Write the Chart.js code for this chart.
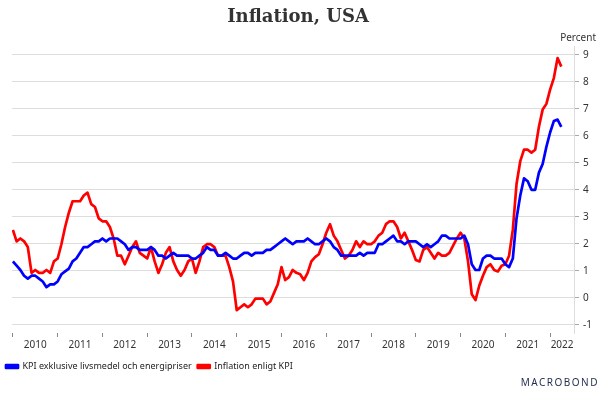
<!DOCTYPE html>
<html>
<head>
<meta charset="utf-8">
<script src="https://cdn.jsdelivr.net/npm/chart.js@4"></script>
<style>
  body { margin: 0; background: #fff; }
  #wrap { position: relative; width: 600px; height: 396px; }
  #unit { position: absolute; right: 4px; top: 30px; font: 10px "Noto Sans", sans-serif; color: #333; white-space: nowrap; }
  #logo { position: absolute; right: 1px; top: 375px; font: 10px "Noto Sans", sans-serif; color: #1f2d4d; letter-spacing: 1.5px; white-space: nowrap; }
</style>
</head>
<body>
<div id="wrap">
  <canvas id="chart" width="600" height="396"></canvas>
  <div id="unit">Percent</div>
  <div id="logo">MACROBOND</div>
</div>
<script>
// monthly values, Jan 2010 - Apr 2022
const startYear = 2010;
const years = [2010, 2011, 2012, 2013, 2014, 2015, 2016, 2017, 2018, 2019, 2020, 2021, 2022];
const yTicks = [-1, 0, 1, 2, 3, 4, 5, 6, 7, 8, 9];

const coreCpi = [
  1.5, 1.35, 1.2, 1.0, 0.9, 1.0, 1.0, 0.9, 0.8, 0.6, 0.7, 0.7,
  0.8, 1.05, 1.15, 1.25, 1.5, 1.6, 1.8, 2.0, 2.0, 2.1, 2.2, 2.2,
  2.3, 2.2, 2.3, 2.3, 2.3, 2.2, 2.1, 1.9, 2.0, 2.0, 1.9, 1.9,
  1.9, 2.0, 1.9, 1.7, 1.7, 1.6, 1.7, 1.8, 1.7, 1.7, 1.7, 1.7,
  1.6, 1.6, 1.7, 1.8, 2.0, 1.9, 1.9, 1.7, 1.7, 1.8, 1.7, 1.6,
  1.6, 1.7, 1.8, 1.8, 1.7, 1.8, 1.8, 1.8, 1.9, 1.9, 2.0, 2.1,
  2.2, 2.3, 2.2, 2.1, 2.2, 2.2, 2.2, 2.3, 2.2, 2.1, 2.1, 2.2,
  2.3, 2.2, 2.0, 1.9, 1.7, 1.7, 1.7, 1.7, 1.7, 1.8, 1.7, 1.8,
  1.8, 1.8, 2.1, 2.1, 2.2, 2.3, 2.4, 2.2, 2.2, 2.1, 2.2, 2.2,
  2.2, 2.1, 2.0, 2.1, 2.0, 2.1, 2.2, 2.4, 2.4, 2.3, 2.3, 2.3,
  2.3, 2.4, 2.1, 1.4, 1.2, 1.2, 1.6, 1.7, 1.7, 1.6, 1.6, 1.6,
  1.4, 1.3, 1.6, 3.0, 3.8, 4.4, 4.3, 4.0, 4.0, 4.6, 4.9, 5.5,
  6.0, 6.4, 6.45, 6.2
];

const cpi = [
  2.6, 2.2, 2.3, 2.2, 2.0, 1.1, 1.2, 1.1, 1.1, 1.2, 1.1, 1.5,
  1.6, 2.1, 2.7, 3.2, 3.6, 3.6, 3.6, 3.8, 3.9, 3.5, 3.4, 3.0,
  2.9, 2.9, 2.7, 2.3, 1.7, 1.7, 1.4, 1.7, 2.0, 2.2, 1.8, 1.7,
  1.6, 2.0, 1.5, 1.1, 1.4, 1.8, 2.0, 1.5, 1.2, 1.0, 1.2, 1.5,
  1.6, 1.1, 1.5, 2.0, 2.1, 2.1, 2.0, 1.7, 1.7, 1.7, 1.3, 0.8,
  -0.2, -0.1, 0.0, -0.1, 0.0, 0.2, 0.2, 0.2, 0.0, 0.1, 0.4, 0.7,
  1.3, 0.85, 0.95, 1.2, 1.1, 1.05, 0.85, 1.1, 1.5, 1.65, 1.75, 2.1,
  2.5, 2.8, 2.4, 2.2, 1.9, 1.6, 1.7, 1.9, 2.2, 2.0, 2.2, 2.1,
  2.1, 2.2, 2.4, 2.5, 2.8, 2.9, 2.9, 2.7, 2.3, 2.5, 2.2, 1.9,
  1.55, 1.5, 1.9, 2.0, 1.8, 1.6, 1.8, 1.7, 1.7, 1.8, 2.05, 2.3,
  2.5, 2.3, 1.5, 0.35, 0.15, 0.65, 1.0, 1.3, 1.4, 1.2, 1.15, 1.35,
  1.4, 1.7, 2.6, 4.2, 5.0, 5.4, 5.4, 5.3, 5.4, 6.2, 6.8, 7.0,
  7.5, 7.9, 8.6, 8.3
];

const xMin = 2009.98;
const xMax = 2022.535;

function toPoints(values) {
  return values.map((v, i) => ({ x: startYear + i / 12, y: v }));
}

// year labels sit in the middle of each year
const labelPos = years.map(y => y === 2022 ? (y + xMax) / 2 : y + 0.5);

const textFont = { family: "Noto Sans", size: 10 };

new Chart(document.getElementById("chart"), {
  type: "line",
  data: {
    datasets: [
      {
        label: "KPI exklusive livsmedel och energipriser",
        data: toPoints(coreCpi),
        borderColor: "#0000ff",
        backgroundColor: "#0000ff",
        borderWidth: 2.7,
        borderJoinStyle: "round",
        pointRadius: 0,
        tension: 0
      },
      {
        label: "Inflation enligt KPI",
        data: toPoints(cpi),
        borderColor: "#ff0000",
        backgroundColor: "#ff0000",
        borderWidth: 2.7,
        borderJoinStyle: "round",
        pointRadius: 0,
        tension: 0
      }
    ]
  },
  options: {
    responsive: false,
    animation: false,
    devicePixelRatio: 1,
    layout: { padding: { top: 0, right: 4, bottom: 15, left: 0 } },
    scales: {
      x: {
        type: "linear",
        position: "bottom",
        min: xMin,
        max: xMax,
        afterBuildTicks: axis => { axis.ticks = years.map(v => ({ value: v })); },
        grid: { drawOnChartArea: false, drawTicks: true, tickLength: 4, tickColor: "#888" },
        border: { display: false },
        ticks: { display: false }
      },
      xl: {
        type: "linear",
        position: "bottom",
        min: xMin,
        max: xMax,
        afterBuildTicks: axis => { axis.ticks = labelPos.map(v => ({ value: v })); },
        afterFit: axis => { axis.height += 3; },
        grid: { display: false, drawTicks: false },
        border: { display: false },
        ticks: {
          autoSkip: false,
          maxRotation: 0,
          padding: 2,
          color: "#333",
          font: textFont,
          callback: v => String(Math.floor(v))
        }
      },
      yl: {
        position: "left",
        grid: { display: false, drawTicks: false },
        border: { display: false },
        ticks: { display: false },
        afterFit: axis => { axis.width = 12; }
      },
      y: {
        position: "right",
        min: -1.3,
        max: 9.3,
        afterBuildTicks: axis => { axis.ticks = yTicks.map(v => ({ value: v })); },
        grid: { color: "#dddddd", lineWidth: 1, drawTicks: true, tickLength: 5, tickColor: "#aaa" },
        border: { display: true, color: "#dddddd" },
        ticks: { color: "#333", font: textFont, padding: 4 }
      }
    },
    plugins: {
      title: {
        display: true,
        text: "Inflation, USA",
        color: "#333",
        font: { family: "DejaVu Serif", size: 18, weight: "bold" },
        padding: { top: 7, bottom: 18 }
      },
      legend: {
        position: "bottom",
        align: "start",
        labels: {
          boxWidth: 12,
          boxHeight: 3,
          padding: 6,
          color: "#222",
          font: { family: "Noto Sans", size: 9 }
        }
      },
      tooltip: { enabled: false }
    }
  }
});
</script>
</body>
</html>
